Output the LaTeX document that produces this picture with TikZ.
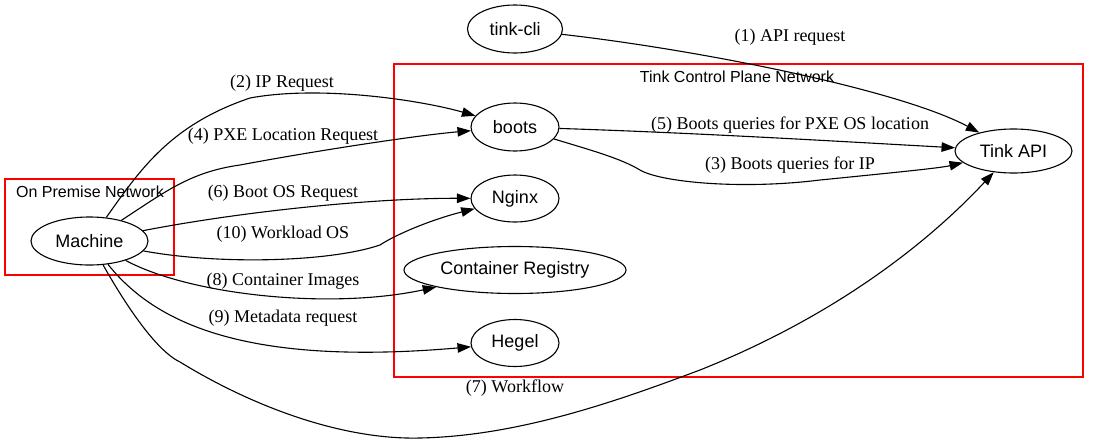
\documentclass[tikz,border=0pt]{standalone}
\usepackage{fontspec}
\setmainfont{Liberation Serif}
\newfontfamily\helv{Liberation Sans}
\usetikzlibrary{arrows.meta,shapes.geometric}
\begin{document}
\begin{tikzpicture}[x=1pt,y=-1pt,
  gnode/.style={ellipse,draw,line width=1.1pt,inner sep=0pt,font=\helv\fontsize{18}{20}\selectfont},
  cluster/.style={draw=red,line width=1.1pt},
  clabel/.style={font=\helv\fontsize{16}{18}\selectfont,inner sep=0pt},
  elabel/.style={font=\fontsize{18}{20}\selectfont,inner sep=0pt},
  edge/.style={draw,line width=1.1pt,-{Triangle[length=13.5pt,width=9.5pt]}}]
\useasboundingbox (0,0) rectangle (1098,445);
% clusters
\draw[cluster] (394,64) rectangle (1083,377);
\node[clabel] (tcplabel) at (737,77) {Tink Control Plane Network};
\draw[cluster] (5,179) rectangle (174,275);
\node[clabel] (oplabel) at (90,192) {On Premise Network};
% nodes
\node[gnode,minimum width=95pt,minimum height=48pt] (cli) at (515,29) {tink-cli};
\node[gnode,minimum width=88pt,minimum height=48pt] (boots) at (515,127) {boots};
\node[gnode,minimum width=88pt,minimum height=47pt] (nginx) at (515,198.5) {Nginx};
\node[gnode,minimum width=222pt,minimum height=47pt] (creg) at (515,270) {Container Registry};
\node[gnode,minimum width=88pt,minimum height=47pt] (hegel) at (515,343) {Hegel};
\node[gnode,minimum width=117pt,minimum height=44pt] (api) at (1013.5,151) {Tink API};
\node[gnode,minimum width=117pt,minimum height=48pt] (machine) at (89.5,241) {Machine};
% edges
\draw[edge] (cli) .. controls (700,50) and (900,90) .. (api);
\node[elabel] (l1) at (790,37) {(1) API request};
\draw[edge] (machine) .. controls (140,170) and (170,125) .. (250,98) .. controls (320,85) and (420,100) .. (boots);
\node[elabel] (l2) at (282,83) {(2) IP Request};
\draw[edge] (machine) .. controls (165,192) and (190,172) .. (240,165) .. controls (320,150) and (420,135) .. (boots);
\node[elabel] (l4) at (283,136) {(4) PXE Location Request};
\draw[edge] (machine) .. controls (250,210) and (380,198) .. (nginx);
\node[elabel] (l6) at (283,193) {(6) Boot OS Request};
\draw[edge] (machine) .. controls (220,265) and (330,262) .. (380,245) .. controls (395,235) and (430,220) .. (nginx);
\node[elabel] (l10) at (283,234) {(10) Workload OS};
\draw[edge] (machine) .. controls (190,295) and (330,310) .. (creg);
\node[elabel] (l8) at (283,281) {(8) Container Images};
\draw[edge] (machine) .. controls (160,330) and (260,365) .. (hegel);
\node[elabel] (l9) at (283,318) {(9) Metadata request};
\draw[edge] (machine) .. controls (140,330) and (165,355) .. (180,362) .. controls (250,405) and (340,440) .. (420,438) .. controls (520,436) and (620,400) .. (700,370) .. controls (850,310) and (940,230) .. (api);
\node[elabel] (l7) at (515,388) {(7) Workflow};
\draw[edge] (boots) .. controls (700,133) and (850,142) .. (api);
\node[elabel] (l5) at (790,125) {(5) Boots queries for PXE OS location};
\draw[edge] (boots) .. controls (590,150) and (620,158) .. (640,170) .. controls (660,182) and (740,190) .. (820,180) .. controls (900,172) and (940,168) .. (api);
\node[elabel] (l3) at (790,165) {(3) Boots queries for IP};
\end{tikzpicture}
\end{document}
